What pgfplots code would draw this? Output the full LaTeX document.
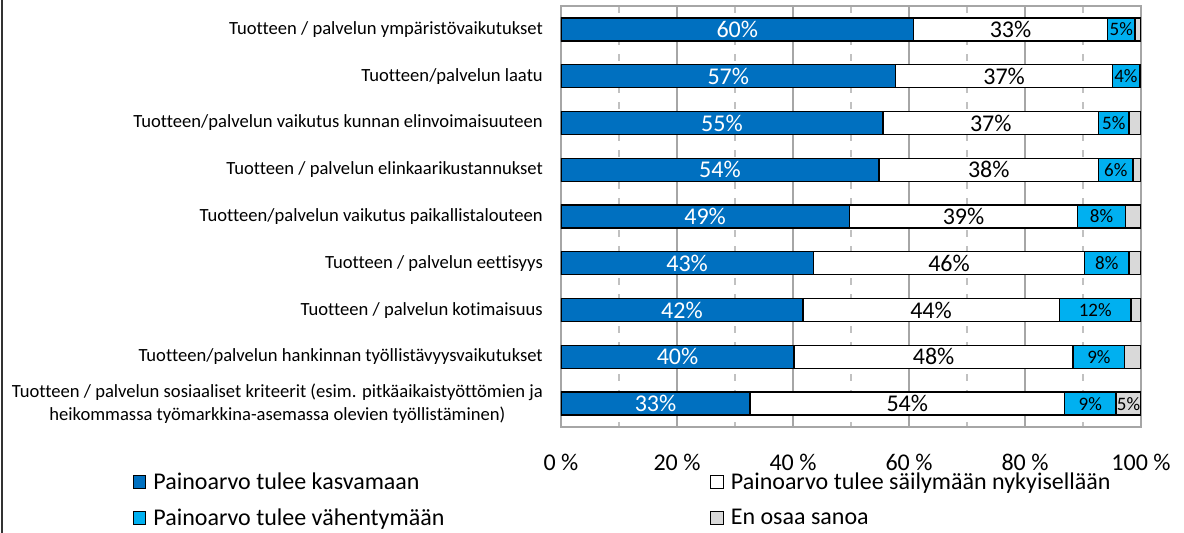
\documentclass[border=0pt]{standalone}
\usepackage{pgfplots}
\pgfplotsset{compat=1.18}
\usepackage{fontspec}
\setmainfont{Carlito}[Ligatures={NoCommon}]
\definecolor{dblue}{HTML}{0070C0}
\definecolor{lblue}{HTML}{00B0F0}
\definecolor{lgray}{HTML}{D9D9D9}
\definecolor{gridgray}{HTML}{A6A6A6}
\begin{document}
\begin{tikzpicture}
\useasboundingbox (-561pt,-106pt) rectangle (623pt,427pt);
\draw[line width=1.5pt, black!80] (-559pt,-106pt) -- (-559pt,427pt);
\begin{axis}[
  at={(0pt,0pt)}, anchor=south west,
  scale only axis, width=580pt, height=421pt,
  xbar stacked, bar width=23pt,
  xmin=0, xmax=100, ymin=-0.5, ymax=8.5, y dir=reverse,
  ytick={0,...,8},
  yticklabels={
    Tuotteen / palvelun ympäristövaikutukset,
    Tuotteen/palvelun laatu,
    Tuotteen/palvelun vaikutus kunnan elinvoimaisuuteen,
    Tuotteen / palvelun elinkaarikustannukset,
    Tuotteen/palvelun vaikutus paikallistalouteen,
    Tuotteen / palvelun eettisyys,
    Tuotteen / palvelun kotimaisuus,
    Tuotteen/palvelun hankinnan työllistävyysvaikutukset,
    {Tuotteen / palvelun sosiaaliset kriteerit (esim. pitkäaikaistyöttömien ja\\heikommassa työmarkkina-asemassa olevien työllistäminen)}},
  yticklabel style={font=\fontsize{18.6}{23}\selectfont, align=center, inner sep=0pt, xshift=-18pt},
  xtick={0,20,...,100},
  xticklabels={0 \%,20 \%,40 \%,60 \%,80 \%,100 \%},
  minor xtick={10,30,...,90},
  xticklabel style={font=\fontsize{24}{24}\selectfont, inner sep=0pt, yshift=-26.5pt},
  tick style={draw=none},
  xmajorgrids, xminorgrids,
  major grid style={gridgray, line width=1.3pt},
  minor grid style={gridgray!70, line width=1.3pt, dash pattern=on 7pt off 9pt},
  axis line style={gridgray, line width=1.5pt},
  every axis plot/.append style={draw=black, line width=1.4pt},
  point meta=explicit symbolic,
  nodes near coords,
  every node near coord/.append style={anchor=center},
  legend columns=2,
  legend cell align=left,
  legend image code/.code={\draw[#1, line width=1pt] (0pt,-6.5pt) rectangle (12.5pt,6.5pt);},
  legend style={at={(-0.7385,-0.103)}, anchor=north west, draw=none, fill=none,
    font=\fontsize{24}{28}\selectfont, inner sep=0pt, row sep=14pt,
    /tikz/every odd column/.append style={column sep=5pt},
    /tikz/every even column/.append style={column sep=264pt}},
]
\addplot[fill=dblue, nodes near coords style={text=white, font=\fontsize{24}{24}\selectfont}] coordinates {
  (60.8,0) [60\%] (57.7,1) [57\%] (55.5,2) [55\%] (54.8,3) [54\%] (49.7,4) [49\%]
  (43.5,5) [43\%] (41.7,6) [42\%] (40.2,7) [40\%] (32.6,8) [33\%]};
\addlegendentry{Painoarvo tulee kasvamaan}
\addplot[fill=white, nodes near coords style={text=black, font=\fontsize{24}{24}\selectfont}] coordinates {
  (33.4,0) [33\%] (37.4,1) [37\%] (37.2,2) [37\%] (37.9,3) [38\%] (39.4,4) [39\%]
  (46.8,5) [46\%] (44.2,6) [44\%] (48.1,7) [48\%] (54.2,8) [54\%]};
\addlegendentry{Painoarvo tulee säilymään nykyisellään}
\addplot[fill=lblue, nodes near coords style={text=black, font=\fontsize{19}{19}\selectfont}] coordinates {
  (4.8,0) [5\%] (4.6,1) [4\%] (5.2,2) [5\%] (5.9,3) [6\%] (8.2,4) [8\%]
  (7.6,5) [8\%] (12.4,6) [12\%] (8.9,7) [9\%] (8.9,8) [9\%]};
\addlegendentry{Painoarvo tulee vähentymään}
\addplot[fill=lgray, nodes near coords style={text=black, font=\fontsize{19}{19}\selectfont}] coordinates {
  (1.0,0) [] (0.3,1) [] (2.1,2) [] (1.4,3) [] (2.7,4) []
  (2.1,5) [] (1.7,6) [] (2.8,7) [] (4.3,8) [5\%]};
\addlegendentry{En osaa sanoa}
\end{axis}
\end{tikzpicture}
\end{document}
